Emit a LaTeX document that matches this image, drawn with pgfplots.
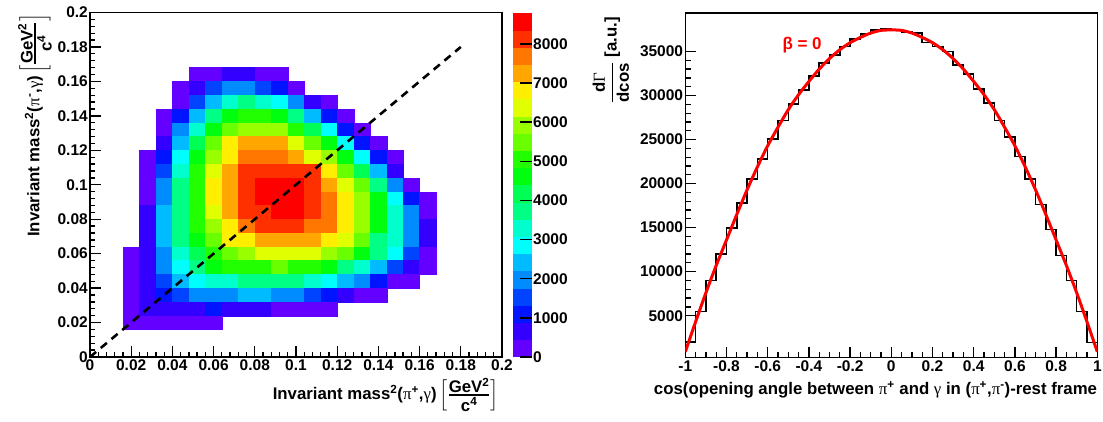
\documentclass[border=0pt]{standalone}
\usepackage{pgfplots}
\pgfplotsset{compat=1.18}
\usepackage{amsmath}
\usepackage{fontspec}
\setmainfont{Liberation Sans}
\newfontfamily\greekfont{Liberation Serif}
\newcommand{\gr}[1]{{\greekfont\mdseries #1}}
\newcommand{\rf}{\bfseries\fontsize{15.5}{18}\selectfont}
\newcommand{\tf}{\bfseries\fontsize{16.8}{19}\selectfont}
% [GeV^2/c^4] unit block with tall brackets
\newcommand{\massunit}{$\left[\rule[-11pt]{0pt}{30pt}\genfrac{}{}{1.5pt}{1}{\mbox{GeV\textsuperscript{2}}}{\mbox{c\textsuperscript{4}}}\right]$}

% one rectangular cell of the 25x25 binning (0.008 x 0.008)
\pgfdeclareplotmark{cell}{%
  \pgfpathrectangle{\pgfpoint{-8.24pt}{-6.89pt}}{\pgfpoint{16.48pt}{13.78pt}}%
  \pgfusepathqfillstroke}

\pgfplotsset{
  colormap={rootpretty}{
    rgb255(0cm)=(99,0,255)   rgb255(1cm)=(51,0,255)   rgb255(2cm)=(0,20,255)
    rgb255(3cm)=(0,68,255)   rgb255(4cm)=(0,139,255)  rgb255(5cm)=(0,187,255)
    rgb255(6cm)=(0,255,252)  rgb255(7cm)=(0,255,204)  rgb255(8cm)=(0,255,133)
    rgb255(9cm)=(0,255,85)   rgb255(10cm)=(0,255,14)  rgb255(11cm)=(34,255,0)
    rgb255(12cm)=(105,255,0) rgb255(13cm)=(153,255,0) rgb255(14cm)=(224,255,0)
    rgb255(15cm)=(255,238,0) rgb255(16cm)=(255,167,0) rgb255(17cm)=(255,119,0)
    rgb255(18cm)=(255,48,0)  rgb255(19cm)=(255,0,0)   rgb255(20cm)=(255,0,0)
  },
}

\begin{document}
\begin{tikzpicture}
\useasboundingbox (0,0) rectangle (1103pt,421pt);

% ---------------- Dalitz plot ----------------
\begin{axis}[
  name=dalitz,
  at={(90pt,64pt)}, anchor=south west,
  scale only axis, width=412pt, height=344.5pt,
  xmin=0, xmax=0.2, ymin=0, ymax=0.2,
  axis on top, clip mode=individual,
  axis line style={line width=1.6pt},
  tick style={black, line width=1.3pt},
  major tick length=11pt, minor tick length=5.5pt,
  tick align=inside, xtick pos=bottom, ytick pos=left,
  xtick={0,0.02,0.04,0.06,0.08,0.1,0.12,0.14,0.16,0.18,0.2},
  xticklabels={0,0.02,0.04,0.06,0.08,0.1,0.12,0.14,0.16,0.18,0.2},
  ytick={0,0.02,0.04,0.06,0.08,0.1,0.12,0.14,0.16,0.18,0.2},
  yticklabels={0,0.02,0.04,0.06,0.08,0.1,0.12,0.14,0.16,0.18,0.2},
  minor x tick num=4, minor y tick num=4,
  tick label style={font=\rf},
  xticklabel style={inner ysep=2pt},
  yticklabel style={inner xsep=2pt},
  xlabel={Invariant mass\textsuperscript{2}(\gr{π}\textsuperscript{+},\gr{γ})\,\massunit},
  xlabel style={font=\tf, at={(axis description cs:1,0)}, anchor=north east, xshift=-3pt, yshift=-21pt, inner sep=0pt},
  ylabel={Invariant mass\textsuperscript{2}(\gr{π}\textsuperscript{-},\gr{γ})\,\massunit},
  ylabel style={font=\tf, at={(axis description cs:0,1)}, anchor=south east, xshift=-1pt, yshift=38pt, inner sep=0pt},
  colormap name=rootpretty,
  colormap access=piecewise constant,
  point meta min=0, point meta max=8800,
  colorbar,
  colorbar style={
    at={(parent axis.north east)}, anchor=north west, xshift=2.3pt,
    scale only axis, width=18.7pt, height=344.5pt,
    axis line style={draw=none},
    ytick={0,1000,2000,3000,4000,5000,6000,7000,8000},
    yticklabels={0,1000,2000,3000,4000,5000,6000,7000,8000},
    ytick pos=right, yticklabel pos=right,
    tick align=inside, major tick length=12pt,
    tick style={black, line width=1.4pt},
    yticklabel style={font=\rf, inner xsep=1.5pt},
  },
]
\addplot[scatter, only marks, mark=cell, line width=0.25pt, point meta=explicit,
  scatter/use mapped color={draw=mapped color, fill=mapped color}]
  table[x=x, y=y, meta=z, row sep=\\] {
x y z \\
0.052 0.164 220 \\ 0.060 0.164 220 \\ 0.068 0.164 660 \\ 0.076 0.164 660 \\ 0.084 0.164 220 \\ 0.092 0.164 220 \\
0.044 0.156 220 \\ 0.052 0.156 660 \\ 0.060 0.156 1540 \\ 0.068 0.156 1980 \\ 0.076 0.156 1980 \\ 0.084 0.156 1540 \\ 0.092 0.156 1100 \\ 0.100 0.156 220 \\
0.044 0.148 220 \\ 0.052 0.148 1540 \\ 0.060 0.148 2420 \\ 0.068 0.148 3300 \\ 0.076 0.148 3740 \\ 0.084 0.148 3300 \\ 0.092 0.148 2860 \\ 0.100 0.148 1980 \\ 0.108 0.148 660 \\ 0.116 0.148 220 \\
0.036 0.140 220 \\ 0.044 0.140 1100 \\ 0.052 0.140 2420 \\ 0.060 0.140 3740 \\ 0.068 0.140 4620 \\ 0.076 0.140 5060 \\ 0.084 0.140 5060 \\ 0.092 0.140 4620 \\ 0.100 0.140 3740 \\ 0.108 0.140 2420 \\ 0.116 0.140 1100 \\ 0.124 0.140 220 \\
0.036 0.132 220 \\ 0.044 0.132 1980 \\ 0.052 0.132 3300 \\ 0.060 0.132 4620 \\ 0.068 0.132 5500 \\ 0.076 0.132 5940 \\ 0.084 0.132 5940 \\ 0.092 0.132 5940 \\ 0.100 0.132 5060 \\ 0.108 0.132 4180 \\ 0.116 0.132 2860 \\ 0.124 0.132 1100 \\ 0.132 0.132 220 \\
0.036 0.124 660 \\ 0.044 0.124 2420 \\ 0.052 0.124 4180 \\ 0.060 0.124 5500 \\ 0.068 0.124 6820 \\ 0.076 0.124 7260 \\ 0.084 0.124 7260 \\ 0.092 0.124 7260 \\ 0.100 0.124 6380 \\ 0.108 0.124 5500 \\ 0.116 0.124 4620 \\ 0.124 0.124 2860 \\ 0.132 0.124 1100 \\ 0.140 0.124 220 \\
0.028 0.116 220 \\ 0.036 0.116 1100 \\ 0.044 0.116 2860 \\ 0.052 0.116 4620 \\ 0.060 0.116 5940 \\ 0.068 0.116 6820 \\ 0.076 0.116 7700 \\ 0.084 0.116 7700 \\ 0.092 0.116 7700 \\ 0.100 0.116 7260 \\ 0.108 0.116 6380 \\ 0.116 0.116 5940 \\ 0.124 0.116 4620 \\ 0.132 0.116 2860 \\ 0.140 0.116 1100 \\ 0.148 0.116 220 \\
0.028 0.108 220 \\ 0.036 0.108 1540 \\ 0.044 0.108 3300 \\ 0.052 0.108 5060 \\ 0.060 0.108 6380 \\ 0.068 0.108 7260 \\ 0.076 0.108 8140 \\ 0.084 0.108 8140 \\ 0.092 0.108 8140 \\ 0.100 0.108 8140 \\ 0.108 0.108 8140 \\ 0.116 0.108 6820 \\ 0.124 0.108 5500 \\ 0.132 0.108 4180 \\ 0.140 0.108 2420 \\ 0.148 0.108 660 \\
0.028 0.100 220 \\ 0.036 0.100 1980 \\ 0.044 0.100 3740 \\ 0.052 0.100 5060 \\ 0.060 0.100 6820 \\ 0.068 0.100 7260 \\ 0.076 0.100 8140 \\ 0.084 0.100 8580 \\ 0.092 0.100 8580 \\ 0.100 0.100 8580 \\ 0.108 0.100 8140 \\ 0.116 0.100 7260 \\ 0.124 0.100 6380 \\ 0.132 0.100 5500 \\ 0.140 0.100 3740 \\ 0.148 0.100 1980 \\ 0.156 0.100 220 \\
0.028 0.092 220 \\ 0.036 0.092 1980 \\ 0.044 0.092 3740 \\ 0.052 0.092 5060 \\ 0.060 0.092 6820 \\ 0.068 0.092 7260 \\ 0.076 0.092 8140 \\ 0.084 0.092 8580 \\ 0.092 0.092 8580 \\ 0.100 0.092 8580 \\ 0.108 0.092 8140 \\ 0.116 0.092 7700 \\ 0.124 0.092 6820 \\ 0.132 0.092 5940 \\ 0.140 0.092 4620 \\ 0.148 0.092 2860 \\ 0.156 0.092 1100 \\ 0.164 0.092 220 \\
0.028 0.084 660 \\ 0.036 0.084 2420 \\ 0.044 0.084 3740 \\ 0.052 0.084 5060 \\ 0.060 0.084 6380 \\ 0.068 0.084 7260 \\ 0.076 0.084 8140 \\ 0.084 0.084 8140 \\ 0.092 0.084 8580 \\ 0.100 0.084 8580 \\ 0.108 0.084 8140 \\ 0.116 0.084 7700 \\ 0.124 0.084 6820 \\ 0.132 0.084 5940 \\ 0.140 0.084 4620 \\ 0.148 0.084 3300 \\ 0.156 0.084 1980 \\ 0.164 0.084 220 \\
0.028 0.076 660 \\ 0.036 0.076 2420 \\ 0.044 0.076 3740 \\ 0.052 0.076 5060 \\ 0.060 0.076 5940 \\ 0.068 0.076 6820 \\ 0.076 0.076 7700 \\ 0.084 0.076 8140 \\ 0.092 0.076 8140 \\ 0.100 0.076 8140 \\ 0.108 0.076 7700 \\ 0.116 0.076 7700 \\ 0.124 0.076 6820 \\ 0.132 0.076 5940 \\ 0.140 0.076 4620 \\ 0.148 0.076 3300 \\ 0.156 0.076 1980 \\ 0.164 0.076 660 \\
0.028 0.068 660 \\ 0.036 0.068 2420 \\ 0.044 0.068 3740 \\ 0.052 0.068 4620 \\ 0.060 0.068 5500 \\ 0.068 0.068 6820 \\ 0.076 0.068 6820 \\ 0.084 0.068 7260 \\ 0.092 0.068 7260 \\ 0.100 0.068 7260 \\ 0.108 0.068 7260 \\ 0.116 0.068 6820 \\ 0.124 0.068 6380 \\ 0.132 0.068 5500 \\ 0.140 0.068 3740 \\ 0.148 0.068 3300 \\ 0.156 0.068 1980 \\ 0.164 0.068 660 \\
0.020 0.060 220 \\ 0.028 0.060 660 \\ 0.036 0.060 1980 \\ 0.044 0.060 3300 \\ 0.052 0.060 4180 \\ 0.060 0.060 5060 \\ 0.068 0.060 5500 \\ 0.076 0.060 5940 \\ 0.084 0.060 6380 \\ 0.092 0.060 6380 \\ 0.100 0.060 6380 \\ 0.108 0.060 6380 \\ 0.116 0.060 5940 \\ 0.124 0.060 5500 \\ 0.132 0.060 4620 \\ 0.140 0.060 3740 \\ 0.148 0.060 2860 \\ 0.156 0.060 1540 \\ 0.164 0.060 220 \\
0.020 0.052 220 \\ 0.028 0.052 660 \\ 0.036 0.052 1980 \\ 0.044 0.052 2860 \\ 0.052 0.052 3740 \\ 0.060 0.052 4620 \\ 0.068 0.052 5060 \\ 0.076 0.052 5060 \\ 0.084 0.052 5060 \\ 0.092 0.052 5500 \\ 0.100 0.052 5060 \\ 0.108 0.052 5060 \\ 0.116 0.052 4620 \\ 0.124 0.052 3740 \\ 0.132 0.052 3300 \\ 0.140 0.052 2420 \\ 0.148 0.052 1540 \\ 0.156 0.052 660 \\ 0.164 0.052 220 \\
0.020 0.044 220 \\ 0.028 0.044 660 \\ 0.036 0.044 1540 \\ 0.044 0.044 2420 \\ 0.052 0.044 2860 \\ 0.060 0.044 3300 \\ 0.068 0.044 3300 \\ 0.076 0.044 3740 \\ 0.084 0.044 3740 \\ 0.092 0.044 3740 \\ 0.100 0.044 3740 \\ 0.108 0.044 3300 \\ 0.116 0.044 2860 \\ 0.124 0.044 2420 \\ 0.132 0.044 1980 \\ 0.140 0.044 1100 \\ 0.148 0.044 220 \\ 0.156 0.044 220 \\
0.020 0.036 220 \\ 0.028 0.036 660 \\ 0.036 0.036 1100 \\ 0.044 0.036 1540 \\ 0.052 0.036 1980 \\ 0.060 0.036 1980 \\ 0.068 0.036 1980 \\ 0.076 0.036 2420 \\ 0.084 0.036 2420 \\ 0.092 0.036 1980 \\ 0.100 0.036 1980 \\ 0.108 0.036 1540 \\ 0.116 0.036 1100 \\ 0.124 0.036 660 \\ 0.132 0.036 220 \\ 0.140 0.036 220 \\
0.020 0.028 220 \\ 0.028 0.028 660 \\ 0.036 0.028 660 \\ 0.044 0.028 660 \\ 0.052 0.028 660 \\ 0.060 0.028 1100 \\ 0.068 0.028 660 \\ 0.076 0.028 660 \\ 0.084 0.028 660 \\ 0.092 0.028 220 \\ 0.100 0.028 220 \\ 0.108 0.028 220 \\ 0.116 0.028 220 \\
0.020 0.020 220 \\ 0.028 0.020 220 \\ 0.036 0.020 220 \\ 0.044 0.020 220 \\ 0.052 0.020 220 \\ 0.060 0.020 220 \\
};
% diagonal m^2(pi+,gamma) = m^2(pi-,gamma)
\addplot[black, line width=2.6pt, dash pattern=on 8pt off 6pt] coordinates {(0,0) (0.18,0.18)};
\end{axis}

% ---------------- angular distribution ----------------
\begin{axis}[
  at={(685.3pt,63.5pt)}, anchor=south west,
  scale only axis, width=412pt, height=344.5pt,
  xmin=-1, xmax=1, ymin=250, ymax=39375,
  scaled x ticks=false, scaled y ticks=false,
  axis line style={line width=1.6pt},
  tick style={black, line width=1.3pt},
  major tick length=11pt, minor tick length=5.5pt,
  tick align=inside, xtick pos=bottom, ytick pos=left,
  xtick={-1,-0.8,-0.6,-0.4,-0.2,0,0.2,0.4,0.6,0.8,1},
  xticklabels={-1,-0.8,-0.6,-0.4,-0.2,0,0.2,0.4,0.6,0.8,1},
  ytick={5000,10000,15000,20000,25000,30000,35000},
  yticklabels={5000,10000,15000,20000,25000,30000,35000},
  minor x tick num=3, minor y tick num=4,
  tick label style={font=\rf},
  xticklabel style={inner ysep=3pt},
  yticklabel style={inner xsep=2pt},
  xlabel={cos(opening angle between \gr{π}\textsuperscript{+} and \gr{γ} in (\gr{π}\textsuperscript{+},\gr{π}\textsuperscript{-})-rest frame},
  xlabel style={font=\tf, at={(axis description cs:1,0)}, anchor=north east, yshift=-24pt, inner sep=0pt},
  ylabel={$\displaystyle\genfrac{}{}{1.3pt}{}{\mbox{d\gr{Γ}}}{\mbox{dcos}}$ [a.u.]},
  ylabel style={font=\tf, at={(axis description cs:0,1)}, anchor=south east, xshift=-4pt, yshift=56pt, inner sep=0pt},
]
\addplot[const plot, black, line width=1.5pt] coordinates {
(-1,2015) (-0.95,5490) (-0.9,9010) (-0.85,12000) (-0.8,14950) (-0.75,17790)
(-0.7,20510) (-0.65,22780) (-0.6,25050) (-0.55,27170) (-0.5,29030) (-0.45,30650)
(-0.4,32240) (-0.35,33680) (-0.3,34620) (-0.25,35570) (-0.2,36400) (-0.15,36970)
(-0.1,37460) (-0.05,37540) (0,37460) (0.05,37200) (0.1,37080) (0.15,36020)
(0.2,35570) (0.25,35000) (0.3,33490) (0.35,32470) (0.4,30730) (0.45,29140)
(0.5,27170) (0.55,25280) (0.6,23080) (0.65,20550) (0.7,17600) (0.75,14760)
(0.8,11810) (0.85,8970) (0.9,5490) (0.95,1970) (1,1970)
};
\addplot[red, line width=3pt, smooth] coordinates {
(-1,900) (-0.95,4300) (-0.9,7600) (-0.85,10700) (-0.8,13600) (-0.75,16500)
(-0.7,19300) (-0.65,21900) (-0.6,24300) (-0.55,26400) (-0.5,28400) (-0.45,30100)
(-0.4,31600) (-0.35,33000) (-0.3,34200) (-0.25,35200) (-0.2,36000) (-0.15,36600)
(-0.1,37100) (-0.05,37400) (0,37450) (0.05,37400) (0.1,37100) (0.15,36600)
(0.2,36000) (0.25,35200) (0.3,34200) (0.35,33000) (0.4,31600) (0.45,30100)
(0.5,28400) (0.55,26400) (0.6,24300) (0.65,21900) (0.7,19300) (0.75,16500)
(0.8,13600) (0.85,10700) (0.9,7600) (0.95,4300) (1,900)
};
\node[text=red, font=\bfseries\fontsize{17}{20}\selectfont] at (axis cs:-0.433,35760) {β = 0};
\end{axis}
\end{tikzpicture}
\end{document}
